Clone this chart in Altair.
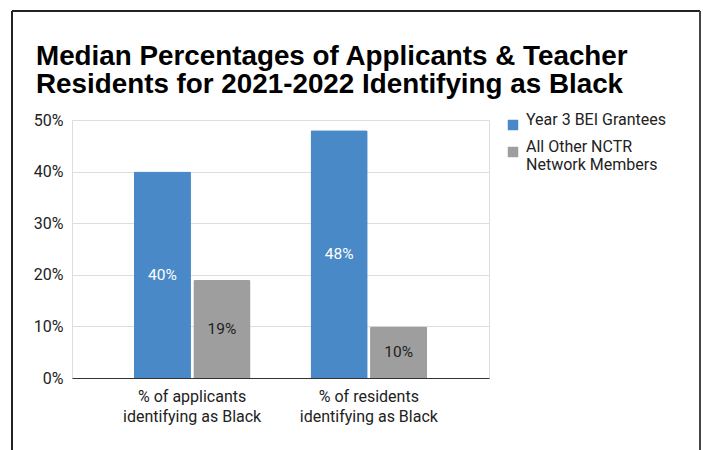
import altair as alt
import pandas as pd

categories = ["% of applicants identifying as Black", "% of residents identifying as Black"]
series = ["Year 3 BEI Grantees", "All Other NCTR Network Members"]
grantees = [0.40, 0.48]
others = [0.19, 0.10]

rows = []
for i, c in enumerate(categories):
    rows.append({"cat": c, "series": series[0], "value": grantees[i]})
    rows.append({"cat": c, "series": series[1], "value": others[i]})
df = pd.DataFrame(rows)

colors = ["#4A89C8", "#9E9E9E"]

x_enc = alt.X(
    "cat:N", sort=categories, title=None,
    scale=alt.Scale(paddingInner=0.34, paddingOuter=0.35),
    axis=alt.Axis(
        labelAngle=0, ticks=False, domainColor="#333333", domainWidth=1,
        labelFont="Roboto", labelFontSize=16, labelColor="#222222", labelPadding=10,
        labelExpr="[replace(datum.label, ' identifying as Black', ''), 'identifying as Black']",
        labelLineHeight=20,
    ),
)
xoff = alt.XOffset("series:N", sort=series, scale=alt.Scale(paddingInner=0.04))

bars = alt.Chart(df).mark_bar(cornerRadiusTopLeft=1.5, cornerRadiusTopRight=1.5).encode(
    x=x_enc,
    xOffset=xoff,
    y=alt.Y(
        "value:Q", title=None,
        scale=alt.Scale(domain=[0, 0.5]),
        axis=alt.Axis(
            format="%", values=[0, 0.1, 0.2, 0.3, 0.4, 0.5], ticks=False, domain=False,
            labelFont="Roboto", labelFontSize=16, labelColor="#222222", labelPadding=9,
            gridColor="#DDDDDD", gridWidth=1,
        ),
    ),
    color=alt.Color(
        "series:N", sort=series, scale=alt.Scale(domain=series, range=colors),
        legend=alt.Legend(
            title=None, orient="none", legendX=433, legendY=-3,
            symbolType="square", symbolSize=110, symbolStrokeWidth=0,
            labelFont="Roboto", labelFontSize=16, labelColor="#222222",
            labelBaseline="alphabetic", labelOffset=5, rowPadding=8,
            labelExpr="datum.label == 'All Other NCTR Network Members' ? ['All Other NCTR', 'Network Members'] : datum.label",
            labelLimit=300,
        ),
    ),
)

labels = alt.Chart(df).transform_calculate(
    mid="datum.value / 2"
).mark_text(font="Roboto", fontSize=15.5).encode(
    x=alt.X("cat:N", sort=categories),
    xOffset=xoff,
    y=alt.Y("mid:Q"),
    text=alt.Text("value:Q", format=".0%"),
    color=alt.condition(
        alt.datum.series == series[0], alt.value("#FFFFFF"), alt.value("#222222")
    ),
)

frame_left = alt.Chart(df).mark_rule(color="#222222", strokeWidth=1.5).encode(
    x=alt.value(-60), y=alt.value(-109), y2=alt.value(330)
)
frame_top = alt.Chart(df).mark_rule(color="#222222", strokeWidth=1.5).encode(
    x=alt.value(-60), x2=alt.value(628), y=alt.value(-109)
)
frame_right = alt.Chart(df).mark_rule(color="#444444", strokeWidth=2).encode(
    x=alt.value(628), y=alt.value(-109), y2=alt.value(330)
)

chart = alt.layer(bars, labels, frame_left, frame_top, frame_right).properties(
    width=417, height=258,
    padding={"left": 11, "top": 10, "right": 0, "bottom": 0},
    title=alt.TitleParams(
        text=["Median Percentages of Applicants & Teacher", "Residents for 2021-2022 Identifying as Black"],
        anchor="start", frame="group", dx=-36, offset=-89,
        font="Liberation Sans", fontSize=27.8, fontWeight="bold", color="#000000",
        lineHeight=28,
    ),
).configure_view(stroke=None).configure(background="#FFFFFF")

chart.save("out.html", embed_options={"renderer": "svg", "actions": False})
